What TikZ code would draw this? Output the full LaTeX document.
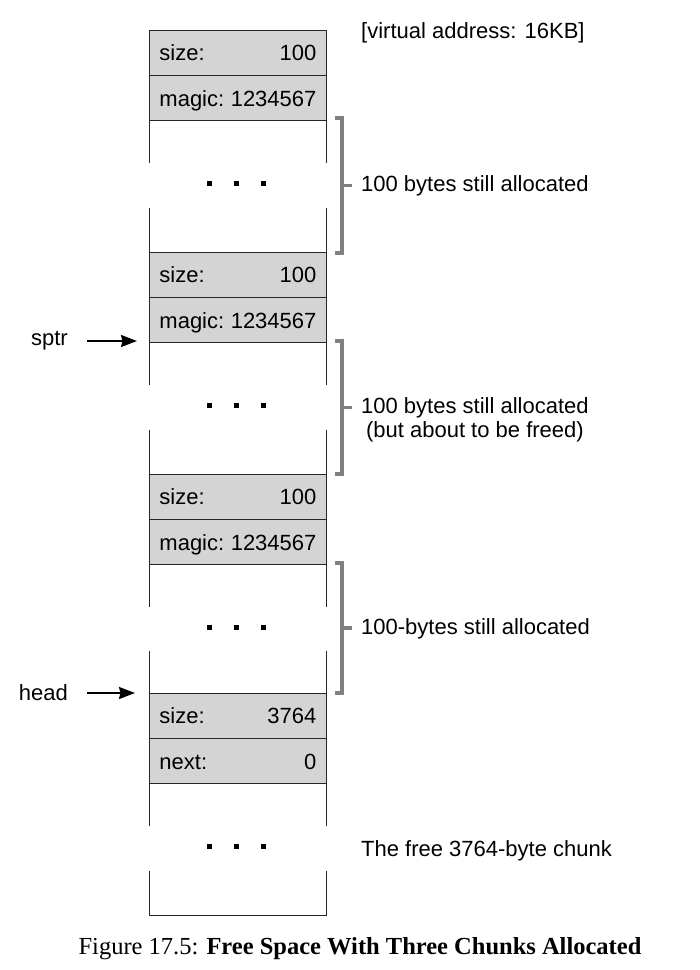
\documentclass[tikz,border=0pt]{standalone}
\usepackage{fontspec}
\setsansfont{Liberation Sans}
\newfontfamily\capfont{Liberation Serif}
\usetikzlibrary{arrows.meta}
\newcommand{\rowtext}[2]{\hbox to 157pt{#1\hfill #2}}
\begin{document}
\begin{tikzpicture}[x=1pt,y=-1pt,
  every node/.style={font=\sffamily\fontsize{22}{24}\selectfont, inner sep=0pt},
  hdr/.style={draw=black!85, line width=0.9pt, fill=black!17, minimum width=177pt,
    minimum height=44.5pt, inner xsep=10pt, text height=16pt, text depth=0pt, anchor=north west},
  side/.style={draw=black!85, line width=0.9pt},
  brk/.style={draw=black!50, line width=3.5pt, line join=miter},
  ptr/.style={-{Stealth[length=16pt,width=12pt,inset=1.5pt]}, line width=2pt, shorten <=19pt},
  dotbox/.style={fill=black, minimum size=5pt, inner sep=0pt, draw=none},
  lbl/.style={anchor=west, align=center}
]
\useasboundingbox (0,0) rectangle (700,970);

% chunk 1
\node[hdr] (s1) at (149,30) {\rowtext{size:}{100}};
\node[hdr] (m1) at (s1.south west) {\rowtext{magic:}{1234567}};
\draw[side] (149,119) -- (149,163) (149,208) -- (149,252);
\draw[side] (326,119) -- (326,163) (326,208) -- (326,252);
\node[dotbox] (d1a) at (209,183) {};
\node[dotbox] (d1b) at (236.5,183) {};
\node[dotbox] (d1c) at (263,183) {};

% chunk 2
\node[hdr] (s2) at (149,252) {\rowtext{size:}{100}};
\node[hdr] (m2) at (s2.south west) {\rowtext{magic:}{1234567}};
\draw[side] (149,341) -- (149,385) (149,430) -- (149,474);
\draw[side] (326,341) -- (326,385) (326,430) -- (326,474);
\node[dotbox] (d2a) at (209,405) {};
\node[dotbox] (d2b) at (236.5,405) {};
\node[dotbox] (d2c) at (263,405) {};

% chunk 3
\node[hdr] (s3) at (149,474) {\rowtext{size:}{100}};
\node[hdr] (m3) at (s3.south west) {\rowtext{magic:}{1234567}};
\draw[side] (149,563) -- (149,607) (149,651) -- (149,693);
\draw[side] (326,563) -- (326,607) (326,651) -- (326,693);
\node[dotbox] (d3a) at (209,627) {};
\node[dotbox] (d3b) at (236.5,627) {};
\node[dotbox] (d3c) at (263,627) {};

% free chunk
\node[hdr] (s4) at (149,693) {\rowtext{size:}{3764}};
\node[hdr] (n4) at (s4.south west) {\rowtext{next:}{0}};
\draw[side] (149,782) -- (149,826) (149,871) -- (149,915) -- (326,915) -- (326,871) (326,826) -- (326,782);
\node[dotbox] (d4a) at (209,846) {};
\node[dotbox] (d4b) at (236.5,846) {};
\node[dotbox] (d4c) at (263,846) {};

% brackets
\draw[brk] (335,118) -- (342,118) -- (342,253) -- (335,253);
\draw[brk] (342,185.5) -- (352,185.5);
\draw[brk] (335,341) -- (342,341) -- (342,474) -- (335,474);
\draw[brk] (342,407.5) -- (352,407.5);
\draw[brk] (335,563) -- (342,563) -- (342,693) -- (335,693);
\draw[brk] (342,628) -- (352,628);

% labels
\node[lbl] (va) at (361,33) {[virtual address: 16KB]};
\node[lbl] (l1) at (361,186) {100 bytes still allocated};
\node[lbl] (l2) at (361,420) {100 bytes still allocated\\(but about to be freed)};
\node[lbl] (l3) at (361,629) {100-bytes still allocated};
\node[lbl] (l4) at (361,851) {The free 3764-byte chunk};

% pointers
\node[anchor=east] (sptr) at (68,341) {sptr};
\coordinate (sptrto) at (137,341);
\draw[ptr] (sptr) -- (sptrto);
\node[anchor=east] (head) at (68,693) {head};
\coordinate (headto) at (135,693);
\draw[ptr] (head) -- (headto);

% caption
\node[anchor=base] (cap) at (360,954) {\capfont\fontsize{24.5}{28}\selectfont Figure 17.5: \textbf{Free Space With Three Chunks Allocated}};
\end{tikzpicture}
\end{document}
